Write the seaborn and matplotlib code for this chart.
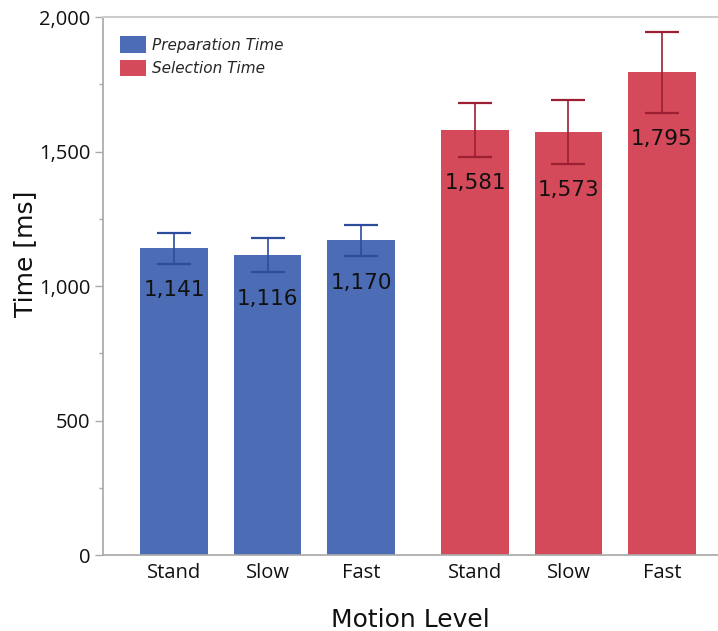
import numpy as np
import pandas as pd
import matplotlib
matplotlib.use("Agg")
import matplotlib.pyplot as plt
import seaborn as sns
from matplotlib.ticker import FuncFormatter, MultipleLocator

# chart data
levels = ["Stand", "Slow", "Fast"]
tasks = ["Preparation Time", "Selection Time"]
prep_time = [1141, 1116, 1170]
sel_time = [1581, 1573, 1795]
prep_err = [58, 64, 58]
sel_err = [100, 118, 150]

# layout of the six bars (gap between the two groups)
positions = [0, 1, 2, 3.22, 4.22, 5.22]

df = pd.DataFrame({
    "pos": positions,
    "level": levels * 2,
    "task": [tasks[0]] * 3 + [tasks[1]] * 3,
    "time": prep_time + sel_time,
    "err": prep_err + sel_err,
})

colors = {"Preparation Time": "#4c6db5", "Selection Time": "#d44a5a"}
err_colors = {"Preparation Time": "#2d4c9c", "Selection Time": "#9c1f33"}

sns.set_theme(style="white")
plt.rcParams["font.family"] = ["DejaVu Sans"]

fig = plt.figure(figsize=(7.18, 6.31), dpi=100)
ax = fig.add_axes([0.1435, 0.1204, 0.8565, 0.8526])

sns.barplot(data=df, x="pos", y="time", hue="task", palette=colors,
            native_scale=True, dodge=False, width=0.72, errorbar=None,
            saturation=1, linewidth=0, ax=ax)

for task in tasks:
    sub = df[df["task"] == task]
    ax.errorbar(sub["pos"], sub["time"], yerr=sub["err"], fmt="none",
                ecolor=err_colors[task], elinewidth=1.2, capsize=12,
                capthick=1.6)

# value labels, just under the lower whisker
for _, row in df.iterrows():
    ax.annotate(f"{row['time']:,}", (row["pos"], row["time"] - row["err"]),
                xytext=(0, -12), textcoords="offset points",
                ha="center", va="top", fontsize=15.5, color="#111111")

ax.set_xlim(-0.76, 5.82)
ax.set_ylim(0, 2000)
ax.set_xticks(positions)
ax.set_xticklabels(df["level"], fontsize=14.5, family="Open Sans")
ax.yaxis.set_major_locator(MultipleLocator(500))
ax.yaxis.set_minor_locator(MultipleLocator(250))
ax.yaxis.set_major_formatter(FuncFormatter(lambda v, p: f"{int(v):,}"))
for lab in ax.get_yticklabels():
    lab.set_fontsize(14.5)
    lab.set_family("Open Sans")

ax.tick_params(axis="y", which="major", length=6, width=1, color="#aaaaaa",
               left=True, pad=3, labelcolor="#111111")
ax.tick_params(axis="y", which="minor", length=3, width=1, color="#aaaaaa",
               left=True)
ax.tick_params(axis="x", length=0, pad=6, labelcolor="#111111")

ax.spines["left"].set_color("#aaaaaa")
ax.spines["bottom"].set_color("#aaaaaa")
ax.spines["top"].set_color("#cccccc")
ax.spines["top"].set_linewidth(1.5)
ax.spines["right"].set_visible(False)

ax.set_xlabel("Motion Level", fontsize=18, labelpad=18, color="#111111")
ax.set_ylabel("Time [ms]", fontsize=18, labelpad=10, color="#111111")
ax.yaxis.set_label_coords(-0.108, 0.56)

leg = ax.legend(loc="upper left", bbox_to_anchor=(0.005, 0.99), frameon=False,
                handlelength=1.7, handleheight=1.3, handletextpad=0.4,
                labelspacing=0.45, prop={"style": "italic", "size": 11})

fig.savefig("out.png", dpi=100)
